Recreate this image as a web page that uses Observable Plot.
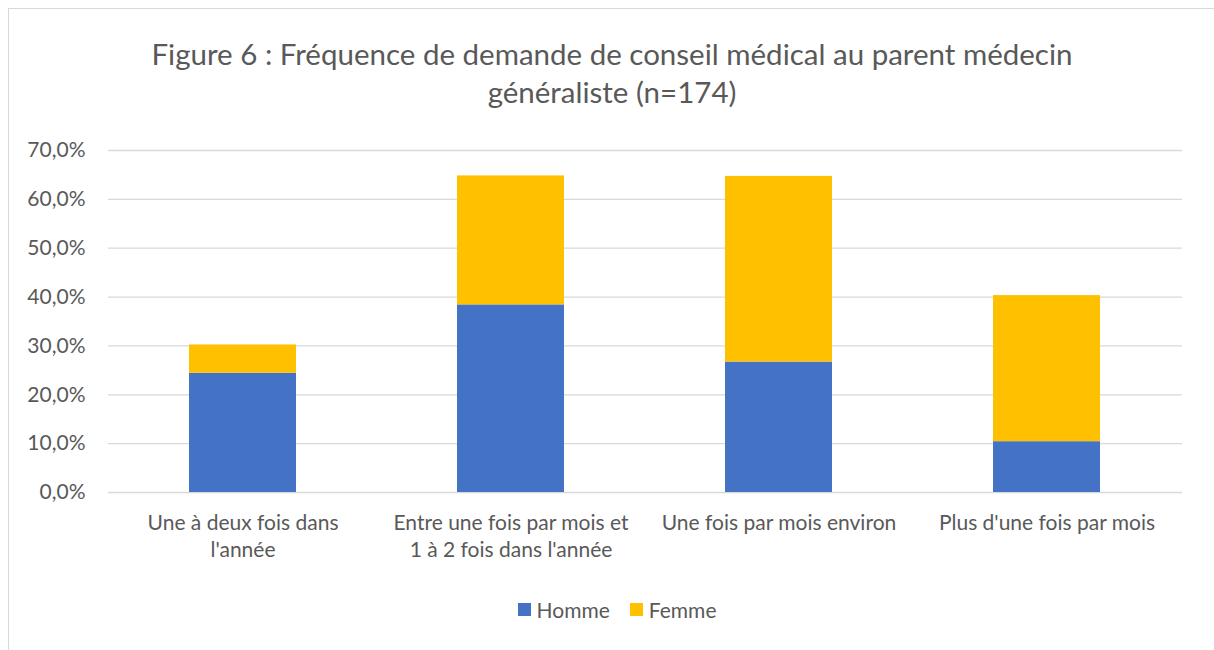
<!DOCTYPE html>
<html>
<head>
<meta charset="utf-8">
<script src="https://cdn.jsdelivr.net/npm/d3@7"></script>
<script src="https://cdn.jsdelivr.net/npm/@observablehq/plot@0.6"></script>
<style>
  html, body { margin: 0; padding: 0; background: #fff; }
  body { width: 1214px; height: 650px; position: relative; overflow: hidden; font-family: Lato, "Open Sans", sans-serif; }
  #frame { position: absolute; left: 8px; top: 8px; right: -2px; bottom: -2px; border-left: 1.5px solid #d9d9d9; border-top: 1.5px solid #d9d9d9; }
  #title { position: absolute; left: 0; width: 1224px; top: 35px; text-align: center; color: #595959; font-size: 29.5px; line-height: 38px; }
  #chart { position: absolute; left: 0; top: 130px; }
  #legend { position: absolute; left: 0; width: 1234px; top: 597px; display: flex; justify-content: center; align-items: center; color: #595959; font-size: 21px; }
  .sw { display: inline-block; width: 13px; height: 13px; margin-right: 6px; }
  .item { display: flex; align-items: center; margin: 0 10px; }
</style>
</head>
<body>
<div id="frame"></div>
<div id="title">Figure 6 : Fréquence de demande de conseil médical au parent médecin<br>généraliste (n=174)</div>
<div id="chart"></div>
<div id="legend"></div>
<script>
const categories = [
  "Une à deux fois dans l'année",
  "Entre une fois par mois et 1 à 2 fois dans l'année",
  "Une fois par mois environ",
  "Plus d'une fois par mois"
];
const categoryLabels = [
  "Une à deux fois dans\nl'année",
  "Entre une fois par mois et\n1 à 2 fois dans l'année",
  "Une fois par mois environ",
  "Plus d'une fois par mois"
];
const series = ["Homme", "Femme"];
const colors = ["#4472C4", "#FFC000"];
const homme = [24.4, 38.4, 26.7, 10.4];
const femme = [5.8, 26.4, 38.0, 29.9];
const yTicks = [0, 10, 20, 30, 40, 50, 60, 70];

const rows = [];
categories.forEach((c, i) => {
  rows.push({category: c, series: "Homme", value: homme[i]});
  rows.push({category: c, series: "Femme", value: femme[i]});
});

const fmt = d => d.toFixed(1).replace(".", ",") + "%";
const labelOf = c => categoryLabels[categories.indexOf(c)];

const chart = Plot.plot({
  width: 1214,
  height: 442,
  marginLeft: 108,
  marginRight: 32,
  marginTop: 20,
  marginBottom: 80,
  style: {fontFamily: "Lato, 'Open Sans', sans-serif", fontSize: "21px", color: "#595959", background: "transparent"},
  x: {domain: categories, paddingInner: 0.6, paddingOuter: 0.3, label: null},
  y: {domain: [0, 70], label: null},
  color: {domain: series, range: colors},
  marks: [
    Plot.gridY(yTicks, {stroke: "#d9d9d9", strokeOpacity: 1, strokeWidth: 1.3}),
    Plot.barY(rows, {x: "category", y: "value", fill: "series", order: series}),
    Plot.axisY({ticks: yTicks, tickSize: 0, tickPadding: 23, tickFormat: fmt, fill: "#595959", fontSize: 21}),
    Plot.axisX({tickSize: 0, tickPadding: 18, tickFormat: labelOf, fill: "#595959", fontSize: 21, lineHeight: 1.3})
  ]
});
document.getElementById("chart").appendChild(chart);

const legend = document.getElementById("legend");
series.forEach((s, i) => {
  const item = document.createElement("span");
  item.className = "item";
  const sw = document.createElement("span");
  sw.className = "sw";
  sw.style.background = colors[i];
  item.appendChild(sw);
  item.appendChild(document.createTextNode(s));
  legend.appendChild(item);
});
</script>
</body>
</html>
